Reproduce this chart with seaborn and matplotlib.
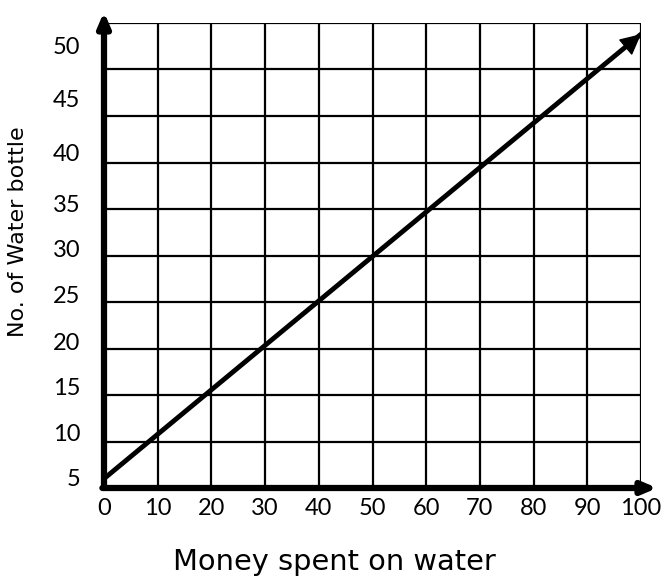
import matplotlib
matplotlib.use("Agg")
import matplotlib.pyplot as plt
import seaborn as sns
import pandas as pd
import numpy as np

# data
money = [0, 100]
bottles = [6.0, 53.8]
x_ticks = [0, 10, 20, 30, 40, 50, 60, 70, 80, 90, 100]
y_grid = [5, 10, 15, 20, 25, 30, 35, 40, 45, 50, 55]
y_labels = ["5", "10", "15", "20", "25", "30", "35", "40", "45", "50"]
y_label_pos = [6.1, 11.0, 15.9, 20.7, 25.8, 30.8, 35.6, 41.1, 46.9, 52.6]

sns.set_theme(style="white")
plt.rcParams["font.family"] = ["DejaVu Sans"]
plt.rcParams["text.color"] = "black"
plt.rcParams["axes.labelcolor"] = "black"
plt.rcParams["xtick.color"] = "black"
plt.rcParams["ytick.color"] = "black"

df = pd.DataFrame({"money": money, "bottles": bottles})

fig = plt.figure(figsize=(6.69, 5.78), dpi=100)
ax = fig.add_axes([104 / 669, 1 - 488 / 578, (641 - 104) / 669, (488 - 23) / 578])

ax.set_xlim(0, 100)
ax.set_ylim(5, 55)

# grid
for xv in x_ticks[1:]:
    ax.axvline(xv, color="black", lw=1.6, zorder=1)
for yv in y_grid[1:]:
    ax.axhline(yv, color="black", lw=1.6, zorder=1)

# the line with arrow head
sns.lineplot(data=df, x="money", y="bottles", ax=ax, color="black", lw=3.5, zorder=3)
ax.annotate("", xy=(money[1], bottles[1]), xytext=(money[1] - 4, bottles[1] - 1.95),
            arrowprops=dict(arrowstyle="-|>,head_length=1.1,head_width=0.55", color="black", lw=1,
                            shrinkA=0, shrinkB=0),
            zorder=4)

# thick axes with arrows
for s in ax.spines.values():
    s.set_visible(False)
ax.annotate("", xy=(0, 56.2), xytext=(0, 5), xycoords="data",
            arrowprops=dict(arrowstyle="-|>,head_length=0.7,head_width=0.3", color="black", lw=4.5,
                            shrinkA=0, shrinkB=0),
            annotation_clip=False, zorder=5)
ax.annotate("", xy=(103, 5), xytext=(-0.3, 5), xycoords="data",
            arrowprops=dict(arrowstyle="-|>,head_length=0.7,head_width=0.3", color="black", lw=4.5,
                            shrinkA=0, shrinkB=0),
            annotation_clip=False, zorder=5)

ax.set_xticks(x_ticks)
ax.set_xticklabels([str(v) for v in x_ticks], fontfamily="Lato", fontsize=17)
ax.set_yticks(y_label_pos)
ax.set_yticklabels(y_labels, fontfamily="Lato", fontsize=17)
ax.tick_params(axis="both", length=0)
ax.tick_params(axis="x", pad=7)
ax.tick_params(axis="y", pad=17)

ax.set_xlabel("Money spent on water", fontsize=20.8)
ax.xaxis.set_label_coords((334 - 104) / 537, -(562 - 488) / 465)
ax.xaxis.label.set_va("center")
ax.set_ylabel("No. of Water bottle", fontsize=16)
ax.yaxis.set_label_coords(-(104 - 18) / 537, (488 - 232) / 465)
ax.yaxis.label.set_va("center")

fig.savefig("out.png", dpi=100)
